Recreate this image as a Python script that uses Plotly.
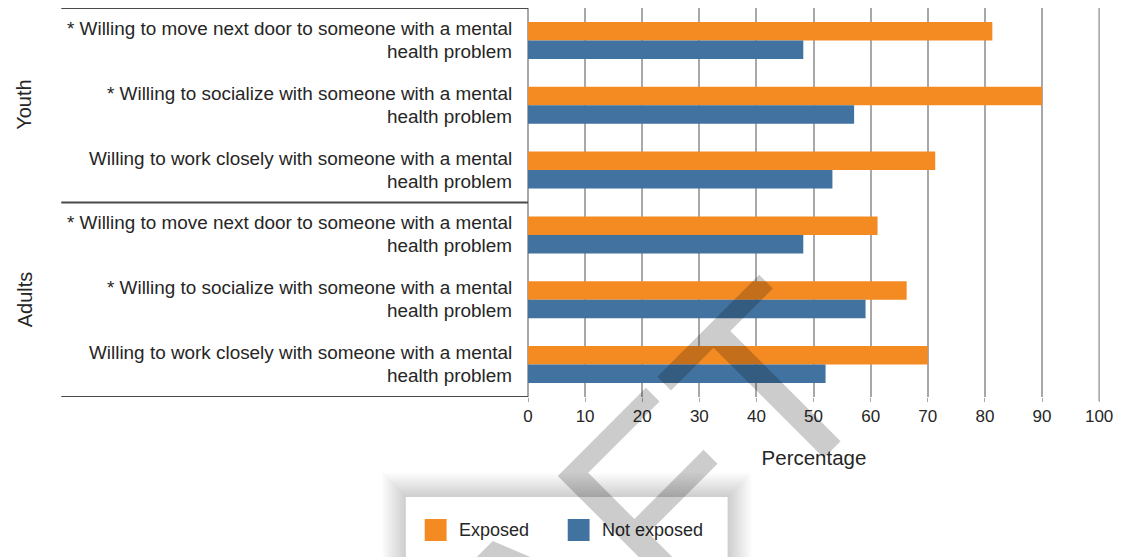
import plotly.graph_objects as go

# ---------------- data ----------------
groups = ["Youth", "Youth", "Youth", "Adults", "Adults", "Adults"]
label_line1 = [
    "* Willing to move next door to someone with a mental",
    "* Willing to socialize with someone with a mental",
    "Willing to work closely with someone with a mental",
    "* Willing to move next door to someone with a mental",
    "* Willing to socialize with someone with a mental",
    "Willing to work closely with someone with a mental",
]
label_line2 = ["health problem"] * 6
exposed = [81.3, 90.0, 71.3, 61.2, 66.3, 70.0]
not_exposed = [48.2, 57.1, 53.3, 48.2, 59.1, 52.1]
series_names = ["Exposed", "Not exposed"]
x_ticks = [0, 10, 20, 30, 40, 50, 60, 70, 80, 90, 100]
x_title = "Percentage"
watermark = "DRAFT"

# ---------------- style ----------------
W, H = 1121, 557
L, R, T, B = 528, 17, 8, 160
PW, PH = W - L - R, H - T - B
ORANGE = "#F38A22"
BLUE = "#4272A0"
FONT = "Liberation Sans, Arial, Helvetica, sans-serif"
TXT = "#262626"
GRID = "#a8a8a8"


def px(xp):
    return (xp - L) / PW


def py(yp):
    return (H - B - yp) / PH


pos = list(range(len(groups)))

fig = go.Figure()
fig.add_trace(go.Bar(y=pos, x=exposed, orientation="h", name=series_names[0],
                     marker=dict(color=ORANGE, line=dict(width=0)), showlegend=False))
fig.add_trace(go.Bar(y=pos, x=not_exposed, orientation="h", name=series_names[1],
                     marker=dict(color=BLUE, line=dict(width=0)), showlegend=False))

fig.update_layout(
    width=W, height=H,
    margin=dict(l=L, r=R, t=T, b=B, pad=0),
    paper_bgcolor="white", plot_bgcolor="white",
    barmode="group", bargap=0.43, bargroupgap=0,
    font=dict(family=FONT, color=TXT),
    xaxis=dict(range=[0, 100.15], tickvals=x_ticks, showgrid=True, gridcolor=GRID, gridwidth=1.6,
               zeroline=True, zerolinecolor=GRID, zerolinewidth=1.6, showline=False,
               ticks="outside", ticklen=4, tickcolor=GRID, tickwidth=1.4,
               tickfont=dict(size=17, color=TXT),
               title=dict(text=x_title, font=dict(size=20.5, color=TXT), standoff=25)),
    yaxis=dict(range=[len(groups) - 0.5, -0.5], showticklabels=False, showgrid=False,
               zeroline=False, showline=False, ticks=""),
)

# last gridline (at the range edge) drawn explicitly
fig.add_shape(type="line", xref="x", yref="paper", x0=x_ticks[-1], x1=x_ticks[-1],
              y0=-4 / PH, y1=1, line=dict(color=GRID, width=1.6), layer="below")

# group divider lines
for yv in [-0.5, 2.5, 5.5]:
    fig.add_shape(type="line", xref="paper", yref="y", x0=px(58), x1=0, y0=yv, y1=yv,
                  line=dict(color="#4a4a4a", width=2), layer="above")

# category labels (two lines each)
for i in pos:
    fig.add_annotation(xref="paper", yref="y", x=px(514), y=i, yshift=12, xanchor="right",
                       yanchor="middle", text=label_line1[i], showarrow=False,
                       font=dict(size=18.9, color=TXT))
    fig.add_annotation(xref="paper", yref="y", x=px(514), y=i, yshift=-11, xanchor="right",
                       yanchor="middle", text=label_line2[i], showarrow=False,
                       font=dict(size=18.9, color=TXT))

# group labels
seen = []
for g in groups:
    if g in seen:
        continue
    seen.append(g)
    idx = [i for i, gg in enumerate(groups) if gg == g]
    fig.add_annotation(xref="paper", yref="y", x=px(21), y=sum(idx) / len(idx),
                       text=g, textangle=-90, showarrow=False, xanchor="center",
                       yanchor="middle", font=dict(size=20, color=TXT))

# legend box with soft shadow
bx0, bx1, by0, by1 = 405, 729, 497, 575
for k in range(12, 0, -1):
    d = 2.0 * k
    fig.add_shape(type="rect", xref="paper", yref="paper",
                  x0=px(bx0 - d), x1=px(bx1 + d), y0=py(by0 - d), y1=py(by1 + d),
                  line=dict(width=0), fillcolor="rgba(0,0,0,0.016)", layer="above")
fig.add_shape(type="rect", xref="paper", yref="paper",
              x0=px(bx0), x1=px(bx1), y0=py(by0), y1=py(by1),
              line=dict(width=0), fillcolor="white", layer="above")

leg_items = [(series_names[0], ORANGE, 424), (series_names[1], BLUE, 568)]
for name, col, sx in leg_items:
    fig.add_shape(type="rect", xref="paper", yref="paper",
                  x0=px(sx), x1=px(sx + 22), y0=py(519), y1=py(541),
                  line=dict(width=0), fillcolor=col, layer="above")
    fig.add_annotation(xref="paper", yref="paper", x=px(sx + 32), y=py(530),
                       xanchor="left", yanchor="middle", text=name, showarrow=False,
                       font=dict(size=18, color=TXT))

# DRAFT watermark
fig.add_annotation(xref="paper", yref="paper", x=px(524), y=py(632), xanchor="center",
                   yanchor="middle", text=watermark, textangle=-45, showarrow=False,
                   font=dict(size=255, color="rgba(0,0,0,0.2)", family=FONT))

fig.write_html("out.html")
